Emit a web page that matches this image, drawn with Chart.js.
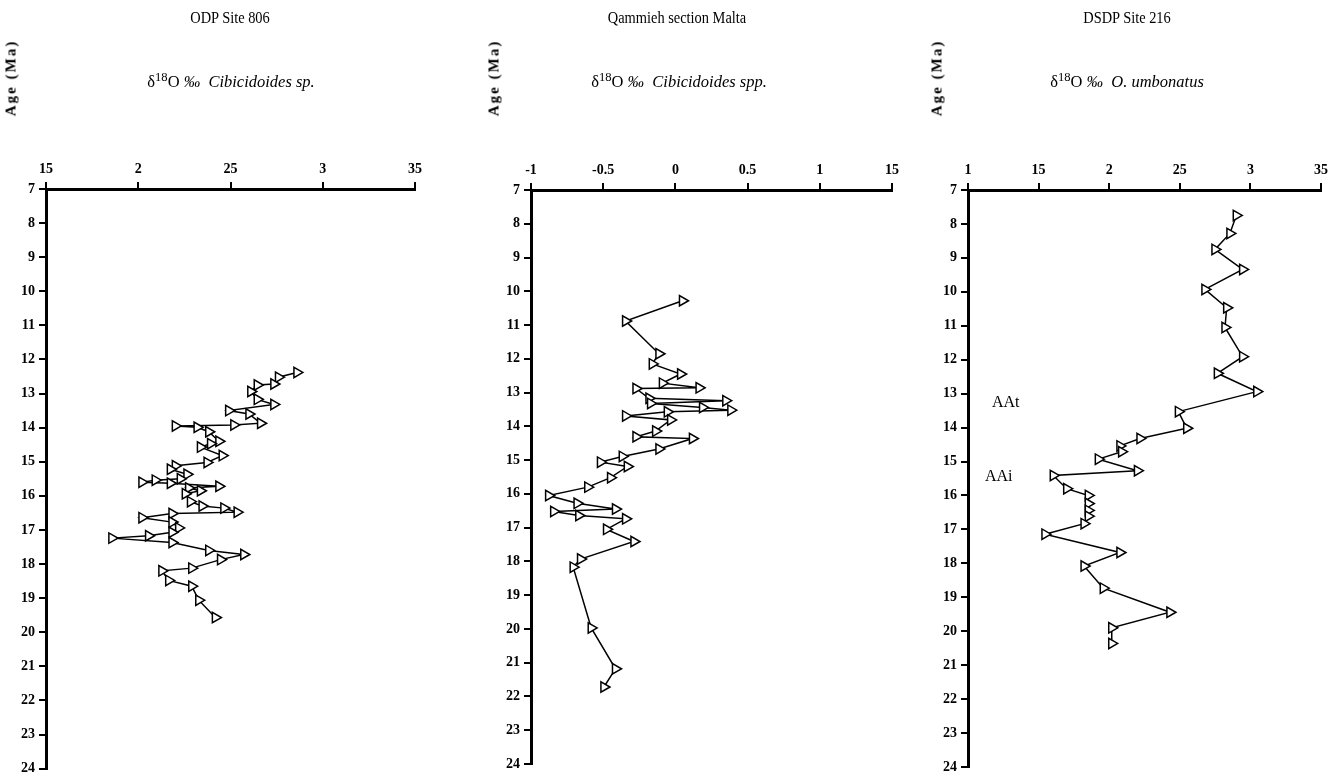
<!DOCTYPE html>
<html><head><meta charset="utf-8">
<script src="https://cdn.jsdelivr.net/npm/chart.js@4.4.0/dist/chart.umd.min.js"></script>
<style>
body{margin:0;background:#fff;width:1333px;height:781px;overflow:hidden;position:relative;font-family:"Liberation Serif","Times New Roman",serif;color:#000;}
canvas{position:absolute;left:0;top:0;}
.t{position:absolute;white-space:nowrap;color:#000;line-height:1;}
.title{font-size:16px;transform:translate(-50%,-50%) scaleX(0.9);}
.sub{font-size:17px;transform:translate(-50%,-50%) scaleX(0.97);}
.sub sup{font-size:13px;vertical-align:6px;}
.age{font-weight:bold;font-size:15px;letter-spacing:2px;transform:translate(-50%,-50%) rotate(-90deg);}
.lab{font-size:16px;transform:translate(0,-50%);}
</style></head>
<body>
<canvas id="c1" width="1333" height="781"></canvas>
<canvas id="c2" width="1333" height="781"></canvas>
<canvas id="c3" width="1333" height="781"></canvas>

<div class="t title" style="left:230px;top:18px">ODP Site 806</div>
<div class="t title" style="left:677px;top:18px">Qammieh section Malta</div>
<div class="t title" style="left:1127px;top:18px">DSDP Site 216</div>

<div class="t age" style="left:11px;top:78px">Age (Ma)</div>
<div class="t age" style="left:494px;top:78px">Age (Ma)</div>
<div class="t age" style="left:937px;top:78px">Age (Ma)</div>

<div class="t sub" style="left:231px;top:80px">δ<sup>18</sup>O <i>‰ &nbsp;Cibicidoides sp.</i></div>
<div class="t sub" style="left:679px;top:80px">δ<sup>18</sup>O <i>‰ &nbsp;Cibicidoides spp.</i></div>
<div class="t sub" style="left:1127px;top:80px">δ<sup>18</sup>O <i>‰ &nbsp;O. umbonatus</i></div>

<div class="t lab" style="left:992px;top:402px">AAt</div>
<div class="t lab" style="left:985px;top:476px">AAi</div>

<script>
// ---- Data ----
const ageTicks = [7,8,9,10,11,12,13,14,15,16,17,18,19,20,21,22,23,24];

// ODP Site 806
const ages806 = [12.38,12.52,12.72,12.75,12.94,13.17,13.32,13.5,13.6,13.87,13.92,13.95,13.99,14.12,14.4,14.47,14.57,14.82,15.02,15.12,15.22,15.37,15.5,15.54,15.6,15.63,15.72,15.77,15.85,15.94,16.17,16.3,16.36,16.48,16.52,16.64,16.77,16.94,17.07,17.17,17.24,17.37,17.6,17.72,17.87,18.12,18.2,18.48,18.65,19.06,19.57];
const d18o806 = [2.86,2.76,2.735,2.645,2.61,2.645,2.735,2.49,2.6,2.663,2.518,2.201,2.319,2.382,2.437,2.392,2.337,2.455,2.373,2.201,2.174,2.264,2.228,2.092,2.02,2.174,2.437,2.273,2.337,2.255,2.283,2.346,2.464,2.536,2.183,2.02,2.183,2.219,2.183,2.056,1.857,2.183,2.382,2.572,2.446,2.29,2.128,2.165,2.29,2.328,2.418];
const xTicks806 = [1.5,2,2.5,3,3.5];
const xLabels806 = ['15','2','25','3','35'];

// Qammieh section Malta
const agesMalta = [10.28,10.88,11.85,12.15,12.45,12.72,12.86,12.88,13.17,13.24,13.32,13.44,13.52,13.57,13.69,13.81,14.14,14.31,14.36,14.67,14.89,15.06,15.19,15.52,15.8,16.05,16.28,16.45,16.52,16.64,16.74,17.05,17.41,17.93,18.17,19.97,21.18,21.72];
const d18oMalta = [0.049,-0.345,-0.114,-0.16,0.036,-0.09,0.164,-0.273,-0.183,0.349,-0.172,0.188,0.384,-0.056,-0.345,-0.033,-0.137,-0.273,0.118,-0.114,-0.368,-0.519,-0.333,-0.449,-0.607,-0.878,-0.681,-0.415,-0.843,-0.669,-0.345,-0.477,-0.287,-0.657,-0.708,-0.583,-0.415,-0.495];
const xTicksMalta = [-1,-0.5,0,0.5,1,1.5];
const xLabelsMalta = ['-1','-0.5','0','0.5','1','15'];

// DSDP Site 216
const ages216 = [7.75,8.28,8.75,9.34,9.93,10.47,11.05,11.91,12.4,12.94,13.53,14.02,14.32,14.54,14.71,14.93,15.27,15.41,15.8,16.0,16.24,16.44,16.61,16.83,17.14,17.68,18.08,18.73,19.44,19.9,20.36];
const d18o216 = [2.9,2.855,2.749,2.945,2.678,2.832,2.82,2.945,2.766,3.045,2.49,2.549,2.218,2.076,2.088,1.923,2.2,1.604,1.699,1.852,1.852,1.852,1.852,1.822,1.545,2.076,1.822,1.958,2.43,2.018,2.018];
const xTicks216 = [1,1.5,2,2.5,3,3.5];
const xLabels216 = ['1','15','2','25','3','35'];

// ---- Layout ----
const W = 1333, H = 781, YW = 42, XH = 32;
const panels = [
  {id:'c1', ages:ages806, vals:d18o806, xt:xTicks806, xl:xLabels806, area:{l:46,r:415,t:189,b:772}},
  {id:'c2', ages:agesMalta, vals:d18oMalta, xt:xTicksMalta, xl:xLabelsMalta, area:{l:531,r:892,t:190,b:764}},
  {id:'c3', ages:ages216, vals:d18o216, xt:xTicks216, xl:xLabels216, area:{l:968,r:1321,t:190,b:767}}
];
const tickFont = {family:'Liberation Serif', weight:'bold', size:14};

panels.forEach(p => {
  const pts = p.ages.map((a,i) => ({x:p.vals[i], y:a}));
  const xmin = p.xt[0], xmax = p.xt[p.xt.length-1];
  new Chart(document.getElementById(p.id), {
    type:'scatter',
    data:{datasets:[{
      data:pts, showLine:true, borderColor:'#000', borderWidth:1.5,
      pointStyle:'triangle', rotation:90, pointRadius:6,
      pointBackgroundColor:'#fff', pointBorderColor:'#000', pointBorderWidth:1.5,
      tension:0, clip:false
    }]},
    options:{
      responsive:false, animation:false, devicePixelRatio:1,
      layout:{padding:{left:p.area.l-YW, right:W-p.area.r, top:p.area.t-XH, bottom:H-p.area.b}},
      plugins:{legend:{display:false}, tooltip:{enabled:false}},
      scales:{
        x:{type:'linear', position:'top', min:xmin, max:xmax,
          afterBuildTicks:(s)=>{s.ticks = p.xt.map(v=>({value:v}));},
          ticks:{callback:(v)=>{const i=p.xt.findIndex(t=>Math.abs(t-v)<1e-6);return i>=0?p.xl[i]:'';},
                 font:tickFont, color:'#000', padding:4, maxRotation:0, autoSkip:false},
          grid:{drawOnChartArea:false, drawTicks:true, tickLength:7, color:'#000', lineWidth:2},
          border:{display:true, color:'#000', width:3},
          afterFit:(s)=>{s.height=XH;}
        },
        y:{type:'linear', reverse:true, min:7, max:24,
          afterBuildTicks:(s)=>{s.ticks = ageTicks.map(v=>({value:v}));},
          ticks:{font:tickFont, color:'#000', padding:4, autoSkip:false},
          grid:{drawOnChartArea:false, drawTicks:true, tickLength:7, color:'#000', lineWidth:2},
          border:{display:true, color:'#000', width:3},
          afterFit:(s)=>{s.width=YW;}
        }
      }
    }
  });
});
</script>
</body></html>
